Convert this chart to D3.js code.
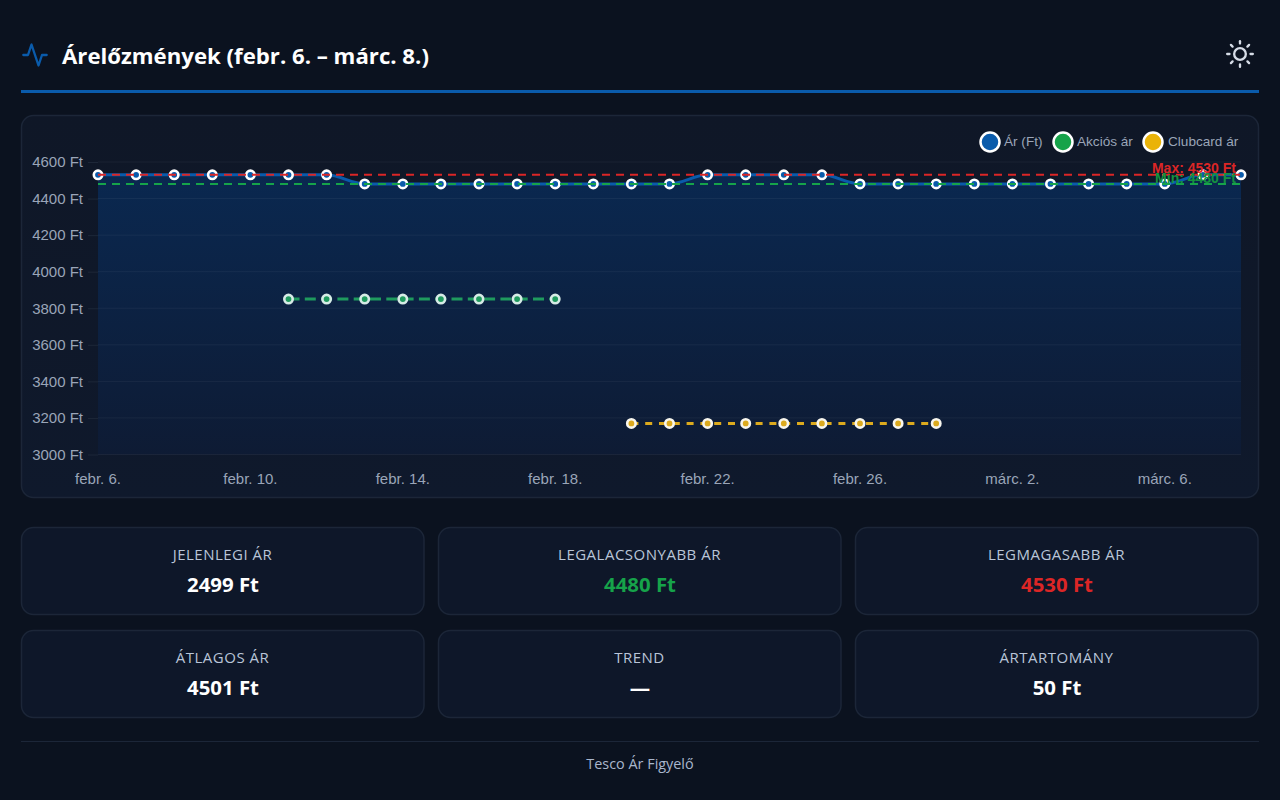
<!DOCTYPE html>
<html lang="hu">
<head>
<meta charset="utf-8">
<title>Árelőzmények</title>
<script src="https://cdn.jsdelivr.net/npm/d3@7/dist/d3.min.js"></script>
<style>
html,body{margin:0;padding:0;background:#0b121f;overflow:hidden}
svg{display:block}
.ui{font-family:"Open Sans","Noto Sans",sans-serif}
.ch{font-family:"Liberation Sans",Arial,sans-serif}
</style>
</head>
<body>
<svg id="c" width="1280" height="800"></svg>
<script>
const dates = ["febr. 6.","febr. 7.","febr. 8.","febr. 9.","febr. 10.","febr. 11.","febr. 12.","febr. 13.","febr. 14.","febr. 15.","febr. 16.","febr. 17.","febr. 18.","febr. 19.","febr. 20.","febr. 21.","febr. 22.","febr. 23.","febr. 24.","febr. 25.","febr. 26.","febr. 27.","febr. 28.","márc. 1.","márc. 2.","márc. 3.","márc. 4.","márc. 5.","márc. 6.","márc. 7.","márc. 8."];
const price = [4530,4530,4530,4530,4530,4530,4530,4480,4480,4480,4480,4480,4480,4480,4480,4480,4530,4530,4530,4530,4480,4480,4480,4480,4480,4480,4480,4480,4480,4530,4530];
const sale = [null,null,null,null,null,3850,3850,3850,3850,3850,3850,3850,3850,null,null,null,null,null,null,null,null,null,null,null,null,null,null,null,null,null,null];
const clubcard = [null,null,null,null,null,null,null,null,null,null,null,null,null,null,3170,3170,3170,3170,3170,3170,3170,3170,3170,null,null,null,null,null,null,null,null];
const yTicks = [3000,3200,3400,3600,3800,4000,4200,4400,4600];
const xTickLabels = ["febr. 6.","febr. 10.","febr. 14.","febr. 18.","febr. 22.","febr. 26.","márc. 2.","márc. 6."];
const maxPrice = 4530;
const minPrice = 4480;
const legendLabels = ["Ár (Ft)","Akciós ár","Clubcard ár"];
const statLabels = ["JELENLEGI ÁR","LEGALACSONYABB ÁR","LEGMAGASABB ÁR","ÁTLAGOS ÁR","TREND","ÁRTARTOMÁNY"];
const statValues = ["2499 Ft","4480 Ft","4530 Ft","4501 Ft","—","50 Ft"];
const titleText = "Árelőzmények (febr. 6. – márc. 8.)";
const footerText = "Tesco Ár Figyelő";

const BLUE="#0a5bab",GREEN="#16a34a",RED="#dc2626",YEL="#eab308";
const svg=d3.select("#c");
const defs=svg.append("defs");
const g1=defs.append("linearGradient").attr("id","area").attr("gradientUnits","userSpaceOnUse").attr("x1",0).attr("x2",0).attr("y1",175).attr("y2",455);
g1.append("stop").attr("offset",0).attr("stop-color","#0a2850");
g1.append("stop").attr("offset",1).attr("stop-color","#0e1b34");
const g2=defs.append("linearGradient").attr("id","panel").attr("x1",0).attr("x2",0).attr("y1",0).attr("y2",1);
g2.append("stop").attr("offset",0).attr("stop-color","#0f1727");
g2.append("stop").attr("offset",1).attr("stop-color","#0f192c");

// Header
const hi=svg.append("g").attr("transform","translate(21,41) scale(1.1667)").attr("fill","none").attr("stroke",BLUE).attr("stroke-width",2).attr("stroke-linecap","round").attr("stroke-linejoin","round");
hi.append("polyline").attr("points","22 12 18 12 15 21 9 3 6 12 2 12");
svg.append("text").attr("class","ui").attr("x",62).attr("y",63.5).attr("font-size",22.2).attr("font-weight",700).attr("fill","#fff").text(titleText);
const sun=svg.append("g").attr("transform","translate(1226,40) scale(1.1667)").attr("fill","none").attr("stroke","#d6dce6").attr("stroke-width",2).attr("stroke-linecap","round").attr("stroke-linejoin","round");
sun.append("circle").attr("cx",12).attr("cy",12).attr("r",5);
[[12,1,12,3],[12,21,12,23],[4.22,4.22,5.64,5.64],[18.36,18.36,19.78,19.78],[1,12,3,12],[21,12,23,12],[4.22,19.78,5.64,18.36],[18.36,5.64,19.78,4.22]].forEach(l=>sun.append("line").attr("x1",l[0]).attr("y1",l[1]).attr("x2",l[2]).attr("y2",l[3]));
svg.append("rect").attr("x",21).attr("y",90).attr("width",1238).attr("height",3).attr("fill",BLUE);

// Chart panel
svg.append("rect").attr("x",21.5).attr("y",115.5).attr("width",1237).attr("height",382).attr("rx",12).attr("fill","url(#panel)").attr("stroke","#1c2638").attr("stroke-width",1.5);

const x=d3.scalePoint().domain(dates).range([98,1241]);
const y=d3.scaleLinear().domain([3000,4600]).range([454.5,162]);

const ya=d3.axisLeft(y).tickValues(yTicks).tickSize(10).tickPadding(5).tickFormat(d=>d+" Ft");
const ga=svg.append("g").attr("class","ch").attr("transform","translate(98,0)").call(ya);
ga.select(".domain").remove();
ga.selectAll("line").attr("stroke","#1d2738");
ga.selectAll("text").attr("fill","#9aa5b8").attr("font-size",15).attr("font-family","Liberation Sans");

const xa=d3.axisBottom(x).tickValues(xTickLabels).tickSize(0).tickPadding(0);
const gx=svg.append("g").attr("class","ch").attr("transform","translate(-0.5,473)").call(xa);
gx.select(".domain").remove();
gx.selectAll("text").attr("fill","#9aa5b8").attr("font-size",15).attr("font-family","Liberation Sans");

const idx=dates.map((d,i)=>i);
const area=d3.area().x(i=>x(dates[i])).y0(y(3000)).y1(i=>y(price[i])).curve(d3.curveMonotoneX);
svg.append("path").attr("d",area(idx)).attr("fill","url(#area)");
svg.append("g").selectAll("line").data(yTicks).join("line")
 .attr("x1",98).attr("x2",1241).attr("y1",d=>y(d)).attr("y2",d=>y(d))
 .attr("stroke","#fff").attr("stroke-opacity",0.05);

function lineOf(vals){return d3.line().defined(i=>vals[i]!=null).x(i=>x(dates[i])).y(i=>y(vals[i])).curve(d3.curveMonotoneX)(idx);}
function pts(vals,fill,stroke,r,sw){
 svg.append("g").selectAll("circle").data(idx.filter(i=>vals[i]!=null)).join("circle")
  .attr("cx",i=>x(dates[i])).attr("cy",i=>y(vals[i])).attr("r",r)
  .attr("fill",fill).attr("stroke",stroke).attr("stroke-width",sw);
}
// price
svg.append("path").attr("d",lineOf(price)).attr("fill","none").attr("stroke",BLUE).attr("stroke-width",3);
pts(price,BLUE,"#fff",4.2,2.6);
// reference lines
svg.append("line").attr("x1",98).attr("x2",1241).attr("y1",y(maxPrice)).attr("y2",y(maxPrice)).attr("stroke",RED).attr("stroke-width",2).attr("stroke-dasharray","8 6");
svg.append("line").attr("x1",98).attr("x2",1241).attr("y1",y(minPrice)).attr("y2",y(minPrice)).attr("stroke",GREEN).attr("stroke-width",2).attr("stroke-dasharray","8 6");
svg.append("text").attr("class","ch").attr("x",1236).attr("y",182.5).attr("text-anchor","end").attr("font-size",14).attr("font-weight",700).attr("fill","#15923f").text("Min: "+minPrice+" Ft");
svg.append("text").attr("class","ch").attr("x",1236).attr("y",173).attr("text-anchor","end").attr("font-size",14).attr("font-weight",700).attr("fill",RED).text("Max: "+maxPrice+" Ft");
// sale
svg.append("path").attr("d",lineOf(sale)).attr("fill","none").attr("stroke","#1f9a5e").attr("stroke-width",3).attr("stroke-dasharray","11 5.3");
pts(sale,"#1f9a5e","#d6ebe6",4.2,2.6);
// clubcard
svg.append("path").attr("d",lineOf(clubcard)).attr("fill","none").attr("stroke","#dcaa1e").attr("stroke-width",3).attr("stroke-dasharray","7 6.8");
pts(clubcard,"#dcaa1e","#f8f6ee",4.2,2.6);

// Legend
const legCx=[990,1063,1153],legTx=[1004,1077,1168],legCol=[BLUE,GREEN,YEL];
legendLabels.forEach((t,i)=>{
 svg.append("circle").attr("cx",legCx[i]).attr("cy",142).attr("r",9.5).attr("fill",legCol[i]).attr("stroke","#fff").attr("stroke-width",2.5);
 svg.append("text").attr("class","ch").attr("x",legTx[i]).attr("y",146).attr("font-size",13.6).attr("fill","#9aa5b8").text(t);
});

// Stats
const cardX=[21.5,438.5,855.5],cardY=[527.5,630.5];
const valColor=["#fff",GREEN,RED,"#fff","#fff","#fff"];
const cards=svg.append("g").selectAll("g").data(statLabels).join("g")
 .attr("transform",(d,i)=>`translate(${cardX[i%3]},${cardY[Math.floor(i/3)]})`);
cards.append("rect").attr("width",402.5).attr("height",87).attr("rx",12).attr("fill","#0e1729").attr("stroke","#1c2638").attr("stroke-width",1.5);
cards.append("text").attr("class","ui").attr("x",201).attr("y",32.5).attr("text-anchor","middle").attr("font-size",15).attr("font-weight",500).attr("letter-spacing",0.5).attr("fill","#b9c5d8").text(d=>d);
cards.append("text").attr("class","ui").attr("x",201.5).attr("y",64).attr("text-anchor","middle").attr("font-size",20.4).attr("font-weight",700).attr("fill",(d,i)=>valColor[i]).text((d,i)=>statValues[i]);

// Footer
svg.append("rect").attr("x",21).attr("y",741).attr("width",1238).attr("height",1).attr("fill","#1c2638");
svg.append("text").attr("class","ui").attr("x",640).attr("y",769).attr("text-anchor","middle").attr("font-size",14.4).attr("fill","#a9b6cc").text(footerText);
</script>
</body>
</html>
